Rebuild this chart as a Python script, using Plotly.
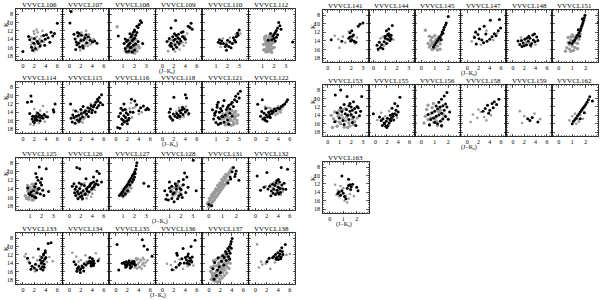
import plotly.graph_objects as go

# ---------------- data: (J-Ks, Ks) per cluster; B = black members, G = grey field ----------------
B106_X = [0.0, 1.0, 1.2, 1.5, 1.7, 2.0, 2.2, 2.5, 2.7, 3.0, 3.3, 3.6, 3.9, 4.1, 4.4, 4.7, 4.9, 5.2, 5.5, 6.0, 1.9, 3.8]
B106_Y = [16.9, 13.3, 14.1, 15.9, 16.6, 13.8, 16.2, 14.5, 15.0, 15.6, 14.4, 13.1, 14.0, 12.9, 13.6, 14.7, 12.3, 13.2, 12.6, 10.2, 14.9, 15.4]
G106_X = [1.4, 1.6, 1.8, 2.0, 2.1, 2.3, 2.4, 2.6, 2.8, 3.0, 3.2, 1.7, 2.2, 2.5, 2.9, 3.4, 1.9, 2.7, 3.1, 2.0, 2.4, 3.6, 1.5]
G106_Y = [15.3, 14.7, 13.9, 12.7, 15.6, 14.2, 13.4, 12.3, 15.9, 14.8, 13.3, 16.2, 15.1, 16.5, 13.9, 12.0, 12.1, 14.4, 15.3, 16.8, 11.7, 14.6, 13.6]

B107_X = [0.3, 0.1, 0.8, 1.0, 1.2, 1.3, 1.5, 1.6, 1.8, 2.0, 2.1, 2.3, 2.5, 2.7, 3.0, 3.3, 3.6, 4.0, 4.4, 4.8, 1.1, 1.7, 2.4, 1.4, 2.9]
B107_Y = [7.4, 10.1, 12.8, 13.9, 14.6, 15.3, 13.2, 14.9, 15.8, 14.3, 13.0, 15.5, 14.1, 13.6, 14.8, 13.4, 14.2, 14.6, 14.4, 14.9, 16.4, 12.6, 16.0, 12.4, 12.9]
G107_X = [1.5, 1.8, 2.0, 2.2, 2.4, 2.6, 2.8, 3.0, 3.2, 3.4, 3.6, 3.9, 2.1, 2.5, 2.9, 3.3, 1.9, 2.7, 3.7, 1.6, 3.1, 4.2]
G107_Y = [15.4, 14.7, 13.9, 15.9, 14.5, 13.1, 15.2, 14.0, 15.6, 12.8, 13.7, 14.3, 12.4, 16.3, 12.0, 14.9, 16.6, 15.5, 15.2, 13.2, 13.5, 13.9]

B108_X = [0.6, 1.1, 1.2, 1.3, 1.4, 1.5, 1.6, 1.7, 1.8, 1.9, 2.0, 1.2, 1.4, 1.6, 1.8, 2.0, 1.3, 1.5, 1.7, 1.9, 2.1, 1.8, 1.9, 2.0, 2.1, 2.2, 2.3, 2.4, 2.5, 2.2, 2.6, 2.0, 1.6, 2.3, 2.7]
B108_Y = [13.2, 15.0, 16.2, 14.5, 15.6, 16.8, 14.9, 15.9, 14.3, 15.4, 16.5, 13.9, 14.2, 16.0, 17.0, 13.7, 16.9, 15.2, 13.4, 14.0, 15.1, 12.9, 12.3, 11.8, 13.0, 12.4, 11.2, 10.5, 9.6, 10.9, 10.0, 12.0, 12.7, 14.5, 15.0]
G108_X = [0.5, 1.3, 1.5, 1.6, 1.7, 1.8, 1.9, 2.0, 2.1, 1.4, 1.6, 1.8, 2.0, 2.2, 1.5, 1.7, 1.9, 2.1, 1.2, 2.3, 1.6, 1.8, 2.0, 2.4]
G108_Y = [11.0, 16.0, 15.4, 16.6, 14.7, 15.8, 16.9, 15.0, 16.2, 17.2, 14.2, 16.4, 15.7, 16.8, 14.4, 17.1, 14.6, 14.0, 16.7, 15.5, 13.8, 13.5, 17.3, 16.0]

B109_X = [2.3, 1.5, 4.5, 5.0, 5.2, 4.8, 0.8, 1.2, 1.5, 1.8, 2.0, 2.2, 2.4, 2.6, 2.8, 3.0, 3.2, 3.5, 3.8, 4.0, 1.6, 2.1, 2.5, 2.9, 3.3, 1.9, 2.7, 3.6, 1.3, 2.2]
B109_Y = [9.5, 11.3, 10.9, 10.2, 11.6, 11.2, 14.5, 13.8, 14.9, 13.4, 14.2, 15.3, 13.1, 14.6, 12.8, 13.9, 14.4, 13.3, 13.7, 14.0, 15.7, 12.7, 15.9, 15.0, 12.4, 16.3, 13.6, 12.2, 15.4, 14.0]
G109_X = [1.0, 1.4, 1.7, 2.0, 2.3, 2.6, 2.9, 3.2, 3.5, 3.9, 4.3, 1.6, 2.4, 3.0, 3.7, 2.2, 1.2, 4.1]
G109_Y = [16.8, 15.8, 15.2, 14.6, 15.7, 14.0, 15.3, 14.9, 14.7, 13.2, 12.6, 14.1, 13.0, 16.4, 15.5, 16.9, 14.3, 14.8]

B110_X = [1.2, 1.4, 1.5, 1.65, 1.8, 1.9, 1.9, 2.1, 2.2, 2.4, 2.5, 2.6, 2.7, 2.75, 2.85, 3.0, 2.3, 1.3, 2.0, 2.9]
B110_Y = [14.7, 15.0, 14.4, 15.0, 15.7, 15.3, 16.6, 15.7, 14.6, 15.0, 13.6, 14.2, 14.6, 13.4, 12.5, 11.8, 16.0, 14.1, 14.2, 13.0]
G110_X = [1.6, 2.2, 2.7, 1.9, 2.5, 3.1, 1.4]
G110_Y = [13.8, 13.6, 12.8, 14.8, 14.9, 12.6, 15.8]

B112_X = [2.4, 2.5, 2.3, 2.2, 2.1, 2.0, 1.9, 2.2, 2.0, 1.8, 2.1, 1.7, 2.3, 3.6, 1.5, 2.6]
B112_Y = [10.0, 10.8, 11.3, 11.9, 12.4, 12.8, 13.2, 13.5, 13.8, 14.1, 14.4, 12.6, 12.9, 14.6, 14.2, 11.6]
G112_X = [1.1, 1.2, 1.3, 1.4, 1.5, 1.6, 1.7, 1.8, 1.9, 2.0, 1.2, 1.3, 1.4, 1.5, 1.6, 1.7, 1.8, 1.9, 1.1, 1.3, 1.5, 1.7, 1.9, 1.2, 1.4, 1.6, 1.8, 2.0, 1.3, 1.5, 1.7, 1.6, 1.4, 1.8, 1.5]
G112_Y = [15.2, 16.4, 14.6, 15.8, 16.9, 14.1, 15.5, 16.3, 14.8, 15.9, 14.0, 15.1, 16.6, 13.8, 15.3, 16.8, 14.4, 13.6, 16.5, 17.0, 15.6, 13.4, 16.0, 13.5, 14.3, 16.2, 15.0, 14.6, 13.2, 14.9, 14.8, 13.1, 15.4, 17.1, 16.4]

B114_X = [0.8, 1.4, 1.5, 1.2, 1.6, 1.8, 1.9, 2.0, 2.2, 2.3, 2.5, 2.7, 2.9, 3.1, 3.3, 3.5, 3.7, 4.0, 2.1, 2.6, 3.0, 1.7, 5.6, 5.3, 5.4, 4.3]
B114_Y = [11.6, 10.1, 11.4, 14.3, 15.6, 16.2, 15.0, 16.4, 15.4, 14.8, 15.9, 15.1, 14.6, 15.3, 14.9, 15.4, 14.5, 15.0, 15.8, 14.2, 16.0, 14.9, 12.0, 13.4, 13.9, 15.1]
G114_X = [3.5, 2.4, 3.0, 1.9, 4.2, 2.8, 1.3, 3.8, 2.0]
G114_Y = [12.5, 14.0, 13.6, 17.0, 13.9, 16.6, 16.8, 16.2, 13.2]

B115_X = [0.2, 0.3, 0.5, 0.8, 1.0, 1.2, 1.4, 1.6, 1.9, 2.1, 2.3, 2.6, 2.8, 3.0, 3.2, 3.4, 3.6, 3.8, 4.0, 4.2, 4.4, 4.6, 4.8, 5.0, 5.2, 5.4, 5.6, 5.8, 1.1, 1.7, 2.4, 3.3, 3.9, 4.5, 5.1, 0.6, 2.0, 4.9]
B115_Y = [12.0, 15.4, 16.3, 15.2, 16.6, 14.9, 15.8, 14.7, 15.5, 14.3, 15.1, 14.0, 13.6, 14.4, 12.9, 13.8, 13.1, 12.4, 13.5, 12.7, 12.2, 11.6, 12.9, 11.3, 10.5, 11.7, 9.8, 12.2, 13.7, 16.1, 12.6, 15.0, 14.1, 13.9, 12.4, 14.6, 13.3, 10.9]
G115_X = [1.0, 1.3, 1.6, 1.8, 2.0, 2.2, 2.5, 2.7, 2.9, 3.1, 1.5, 1.9, 2.3, 2.6, 3.5, 4.1, 0.7, 2.1, 3.7]
G115_Y = [15.7, 15.0, 16.4, 15.3, 16.0, 14.8, 15.6, 15.2, 14.6, 13.7, 13.9, 14.5, 16.4, 14.2, 13.4, 12.8, 13.5, 13.6, 12.0]

B116_X = [0.3, 0.7, 0.5, 0.8, 1.0, 1.2, 1.4, 1.5, 1.7, 1.9, 2.1, 2.3, 2.5, 1.1, 1.6, 2.0, 0.9, 1.3, 1.8, 2.2, 2.7, 3.3, 3.6, 4.0, 4.3, 5.2, 5.5, 5.7, 4.8, 3.0, 1.4]
B116_Y = [17.6, 17.8, 15.0, 14.2, 15.6, 13.5, 14.8, 16.3, 15.2, 16.0, 14.5, 15.4, 13.9, 16.8, 13.3, 16.7, 13.0, 15.9, 14.1, 15.8, 10.9, 11.3, 12.2, 13.6, 12.9, 13.4, 13.0, 13.3, 12.5, 14.0, 12.0]
G116_X = [1.8, 2.4, 3.0, 3.4, 4.0, 4.5, 2.8, 1.2, 2.6]
G116_Y = [13.4, 13.1, 13.0, 12.7, 14.4, 14.0, 15.2, 16.4, 11.8]

B118_X = [2.0, 4.0, 4.2, 1.2, 1.4, 1.5, 1.8, 2.2, 2.5, 2.8, 3.0, 3.2, 3.4, 3.6, 3.8, 4.0, 4.3, 4.6, 2.6, 3.1, 3.5, 1.3, 1.9]
B118_Y = [10.4, 9.8, 10.6, 14.0, 13.2, 15.4, 15.8, 14.9, 14.3, 14.7, 13.6, 14.1, 13.4, 14.5, 13.2, 13.9, 13.5, 14.3, 15.2, 15.0, 12.8, 15.0, 14.4]
G118_X = [2.4, 3.0, 3.7, 4.5, 1.7, 2.9, 4.1]
G118_Y = [13.8, 15.5, 15.1, 14.6, 16.0, 12.9, 12.6]

B121_X = [0.7, 0.8, 0.9, 1.0, 1.1, 1.2, 1.3, 1.4, 1.5, 1.6, 1.7, 1.8, 1.9, 2.0, 2.1, 2.2, 2.3, 2.4, 2.5, 2.6, 2.7, 2.8, 2.9, 3.0, 3.1, 1.0, 1.2, 1.5, 1.7, 0.9, 1.3, 1.6, 2.0, 2.2, 1.1, 1.4, 2.1, 2.4, 1.2]
B121_Y = [13.4, 15.6, 14.2, 16.4, 12.8, 15.2, 14.0, 16.6, 13.6, 15.0, 11.2, 14.6, 13.3, 12.8, 12.3, 14.2, 12.0, 11.6, 12.6, 11.0, 10.2, 11.4, 9.6, 10.6, 9.0, 13.8, 16.9, 14.9, 16.3, 14.7, 15.5, 12.5, 15.8, 13.2, 12.2, 13.1, 16.8, 14.9, 11.6]
G121_X = [1.5, 1.7, 1.9, 2.1, 2.3, 2.5, 2.7, 2.9, 1.6, 1.8, 2.0, 2.2, 2.4, 2.6, 2.8, 1.7, 2.0, 2.3, 2.6, 1.9, 2.2, 2.5, 2.8, 1.4, 2.1, 2.4, 2.7]
G121_Y = [15.6, 16.4, 15.2, 16.8, 15.8, 16.3, 15.0, 14.6, 14.4, 17.0, 14.8, 16.0, 14.5, 15.5, 16.6, 15.4, 16.6, 17.1, 14.2, 14.1, 15.3, 16.9, 15.9, 16.6, 13.9, 13.6, 13.8]

B122_X = [0.4, 1.2, 0.9, 1.3, 1.5, 1.7, 1.9, 2.1, 2.3, 2.5, 2.7, 2.9, 3.1, 3.3, 3.6, 3.9, 4.2, 4.5, 4.8, 5.1, 5.4, 5.6, 1.6, 2.0, 2.4, 1.1, 1.8, 2.6]
B122_Y = [12.1, 11.0, 14.9, 15.6, 14.2, 15.9, 14.6, 15.1, 14.0, 14.5, 13.7, 14.3, 13.8, 13.2, 13.6, 13.0, 13.1, 12.6, 12.3, 12.0, 11.5, 11.0, 15.3, 16.1, 14.9, 13.8, 13.1, 15.2]
G122_X = [3.0, 3.3, 3.6, 3.9, 4.2, 4.5, 4.8, 3.5, 4.0, 4.4, 2.6, 2.2, 1.7]
G122_Y = [13.4, 14.1, 13.0, 14.3, 13.6, 13.3, 12.8, 14.6, 12.5, 14.0, 13.0, 12.9, 12.6]

B125_X = [1.8, 2.4, 1.5, 1.6, 1.7, 1.9, 2.0, 1.5, 1.4, 1.8, 2.1, 1.3, 1.6, 1.9, 2.2, 1.2, 1.0, 0.8, 1.5, 2.6, 2.0, 1.7, 1.1, 1.4, 0.9]
B125_Y = [8.9, 9.3, 10.4, 11.3, 12.0, 12.5, 13.1, 12.8, 13.5, 13.9, 14.3, 14.4, 14.9, 15.2, 15.5, 15.6, 15.3, 13.8, 16.0, 14.6, 11.6, 14.1, 14.7, 15.9, 15.1]
G125_X = [0.6, 0.8, 0.9, 1.0, 1.1, 1.2, 1.3, 1.4, 1.5, 0.7, 0.9, 1.1, 1.3, 1.5, 1.0, 1.2, 1.4, 0.8, 1.6, 1.7, 1.2, 0.9, 1.3]
G125_Y = [15.6, 14.5, 15.9, 13.6, 15.1, 14.2, 15.7, 13.9, 14.6, 16.2, 16.4, 15.8, 13.3, 16.1, 14.9, 16.6, 15.3, 13.2, 13.7, 15.0, 12.9, 14.1, 16.5]

B126_X = [1.3, 1.8, 4.8, 5.2, 4.2, 2.9, 5.6, 0.5, 0.8, 1.0, 1.2, 1.4, 1.6, 1.8, 2.0, 2.2, 2.4, 2.6, 2.8, 3.0, 3.2, 3.4, 3.6, 3.8, 4.0, 4.2, 4.4, 4.6, 4.8, 5.0, 1.5, 1.9, 2.3, 2.7, 3.1, 3.5, 3.9, 4.3, 1.1, 1.7, 2.1, 0.9]
B126_Y = [9.0, 9.3, 9.9, 10.4, 11.2, 11.6, 12.4, 13.4, 12.8, 14.1, 13.5, 14.6, 15.2, 13.9, 14.9, 15.6, 14.4, 13.2, 15.1, 14.0, 13.6, 14.7, 13.0, 12.7, 13.8, 12.4, 13.1, 12.8, 12.1, 13.0, 16.3, 15.8, 16.2, 15.3, 14.5, 13.4, 14.1, 13.5, 15.5, 12.6, 12.9, 14.9]
G126_X = [1.2, 1.6, 2.0, 2.4, 2.8, 3.2, 3.6, 4.0, 4.4, 1.4, 2.2, 3.0, 3.8, 2.6]
G126_Y = [15.0, 14.2, 13.4, 14.8, 13.9, 15.4, 14.6, 15.1, 14.2, 16.0, 16.5, 16.2, 15.8, 12.6]

B127_X = [0.7, 0.8, 0.9, 1.0, 1.1, 1.2, 1.3, 1.4, 1.5, 1.6, 1.7, 1.8, 1.9, 2.0, 2.1, 2.15, 2.2, 1.9, 2.0, 1.8, 1.6, 1.2, 1.0, 2.8, 3.2, 1.4, 2.05]
B127_Y = [15.5, 15.2, 14.8, 14.6, 14.0, 13.6, 13.3, 12.9, 12.4, 12.0, 11.5, 11.0, 10.6, 10.0, 9.4, 8.6, 7.9, 11.8, 11.2, 12.4, 13.1, 15.1, 15.6, 12.7, 13.4, 14.4, 10.4]
G127_X = [0.9, 1.0, 1.1, 1.2, 1.3, 1.4, 1.5, 1.6, 1.7, 1.8, 1.1, 1.3, 1.5, 1.7, 1.2, 1.4, 1.6, 1.0, 1.9]
G127_Y = [15.3, 14.2, 15.0, 14.4, 13.9, 14.2, 13.6, 13.0, 12.6, 12.2, 14.1, 14.9, 14.6, 13.8, 15.4, 13.5, 12.8, 15.8, 11.8]

B128_X = [3.05, 2.3, 2.5, 2.2, 0.6, 0.8, 1.0, 1.2, 1.4, 1.6, 1.8, 2.0, 2.2, 2.4, 0.9, 1.1, 1.3, 1.5, 1.7, 1.9, 2.1, 0.7, 1.0, 1.4, 1.8, 2.0, 3.3, 1.6, 1.2, 2.6]
B128_Y = [7.3, 10.3, 11.2, 11.8, 14.4, 15.4, 13.8, 16.2, 14.9, 13.3, 15.6, 14.2, 13.0, 14.8, 16.6, 14.6, 15.1, 12.8, 16.3, 13.9, 16.0, 16.4, 12.4, 17.0, 12.2, 15.3, 14.4, 14.0, 13.4, 13.6]
G128_X = [1.2, 1.4, 1.6, 1.8, 2.0, 1.5, 1.7, 1.9, 1.3, 2.1, 1.6, 1.8]
G128_Y = [14.3, 13.7, 14.6, 13.5, 14.1, 15.2, 12.8, 14.9, 15.6, 13.2, 13.2, 15.8]

B131_X = [1.8, 1.55, 1.95, 2.2, 1.7, 1.4, 0.0, 0.2, 1.6, 1.9, 2.0]
B131_Y = [9.0, 11.2, 10.5, 12.0, 10.0, 12.6, 17.6, 17.9, 11.7, 11.1, 9.8]
G131_X = [-0.1, 0.0, 0.1, 0.2, 0.3, 0.4, 0.5, 0.6, 0.7, 0.8, 0.9, 1.0, 1.1, 1.2, 1.3, 1.4, 1.5, 1.6, 1.7,
          0.0, 0.1, 0.2, 0.3, 0.4, 0.5, 0.6, 0.7, 0.8, 0.9, 1.0, 1.1, 1.2, 1.3, 1.4,
          0.2, 0.35, 0.5, 0.65, 0.8, 0.95, 1.1, 1.25, 0.05, 0.25, 0.45, 0.6, 0.75, 0.9, 1.05]
G131_Y = [17.4, 17.0, 16.6, 16.1, 15.7, 15.2, 14.7, 14.3, 13.8, 13.4, 12.9, 12.4, 12.0, 11.5, 11.0, 10.6, 10.1, 9.6, 9.2,
          18.2, 17.7, 17.4, 16.9, 16.5, 16.0, 15.6, 15.1, 14.7, 14.2, 13.8, 13.3, 12.9, 12.4, 12.0,
          15.6, 14.8, 14.0, 13.2, 12.6, 11.8, 11.2, 10.6, 16.2, 15.3, 14.6, 15.5, 14.4, 13.5, 12.9]

B132_X = [0.3, 2.0, 4.5, 5.6, 4.0, 2.2, 2.5, 2.8, 3.0, 3.2, 3.4, 3.6, 3.8, 4.0, 4.2, 4.4, 4.6, 4.8, 5.0, 3.1, 3.5, 3.9, 4.3, 2.7, 3.7, 4.1, 0.9, 1.5, 5.3]
B132_Y = [11.0, 10.2, 9.0, 9.4, 11.8, 14.0, 13.4, 14.5, 12.9, 14.0, 13.2, 12.6, 14.3, 13.6, 12.4, 14.8, 13.1, 14.0, 12.7, 15.0, 15.3, 14.9, 13.9, 15.6, 12.1, 15.2, 14.3, 13.6, 14.1]
G132_X = [3.0, 3.4, 3.8, 4.2, 4.6, 3.6, 4.0, 4.4, 3.2, 2.6, 4.8, 1.8]
G132_Y = [13.8, 14.3, 13.5, 14.5, 13.8, 15.0, 12.9, 15.4, 12.5, 13.0, 14.6, 13.4]

B133_X = [4.4, 4.9, 2.7, 3.0, 3.2, 3.3, 3.4, 3.5, 3.6, 3.7, 3.8, 3.9, 4.0, 3.1, 3.5, 3.7, 3.3, 3.6, 0.8, 1.2, 1.6, 2.0, 2.4, 2.8, 1.4, 2.2, 3.9]
B133_Y = [9.3, 9.1, 10.6, 13.2, 14.0, 12.6, 14.8, 13.5, 12.0, 14.2, 13.0, 11.4, 12.6, 15.3, 15.6, 14.9, 13.7, 11.8, 12.8, 13.9, 14.7, 15.1, 15.6, 14.6, 15.4, 14.2, 11.0]
G133_X = [0.5, 1.0, 1.8, 2.5, 3.0, 4.2, 4.6, 5.2, 2.1, 0.3]
G133_Y = [11.8, 13.6, 12.6, 13.3, 12.3, 13.7, 12.5, 13.5, 15.9, 12.4]

B134_X = [0.8, 1.1, 1.4, 1.6, 1.8, 2.0, 2.2, 2.4, 2.6, 2.9, 3.2, 3.5, 3.7, 3.8, 3.9, 4.0, 4.1, 4.2, 4.3, 3.6, 4.0, 3.8, 4.2, 5.0, 1.3, 1.9, 2.5]
B134_Y = [13.6, 14.3, 15.2, 14.8, 15.6, 15.3, 14.6, 15.0, 14.1, 14.4, 13.9, 13.5, 14.0, 13.6, 14.4, 13.8, 14.2, 13.4, 14.0, 12.6, 12.9, 14.6, 14.5, 13.4, 15.9, 16.2, 15.8]
G134_X = [0.5, 1.2, 2.0, 2.8, 3.4, 4.6, 5.2, 1.6, 3.0]
G134_Y = [11.5, 12.4, 13.2, 12.1, 12.8, 11.6, 12.9, 13.6, 13.5]

B135_X = [0.2, 4.6, 4.9, 5.5, 6.3, 1.4, 1.6, 1.8, 2.0, 2.2, 2.4, 2.6, 2.8, 3.0, 3.2, 3.4, 1.9, 2.3, 2.7, 3.1, 1.7, 0.5, 1.1, 2.5]
B135_Y = [9.5, 8.4, 9.9, 10.7, 12.3, 13.8, 14.3, 13.6, 14.1, 13.8, 14.4, 14.0, 13.7, 14.2, 13.9, 14.4, 14.6, 13.4, 14.8, 13.5, 14.9, 15.6, 14.0, 15.1]
G135_X = [2.8, 3.0, 3.2, 3.4, 3.6, 3.8, 4.0, 4.2, 4.4, 4.6, 4.8, 5.0, 3.3, 3.7, 4.1, 4.5, 4.9, 3.5, 3.9, 4.3, 4.7, 5.2, 5.5, 2.6]
G135_Y = [13.4, 14.0, 13.6, 14.6, 13.2, 14.2, 13.8, 14.8, 13.4, 14.3, 13.9, 14.6, 15.0, 15.2, 14.9, 15.3, 13.1, 12.8, 12.9, 13.2, 12.7, 13.8, 13.3, 14.9]

B136_X = [5.7, 3.6, 5.0, 2.5, 2.6, 4.0, 4.2, 4.4, 4.6, 4.8, 5.0, 5.2, 4.3, 4.7, 5.1, 3.8, 3.1, 2.4, 1.7, 2.9, 4.5, 3.4]
B136_Y = [8.5, 10.5, 10.0, 11.6, 12.1, 12.6, 13.2, 12.3, 13.5, 12.8, 13.3, 12.5, 14.0, 14.2, 13.7, 13.9, 14.0, 14.9, 15.5, 14.4, 11.8, 12.9]
G136_X = [0.8, 1.5, 2.2, 3.0, 3.6, 4.4, 5.4, 2.0]
G136_Y = [14.1, 14.4, 13.6, 13.1, 15.3, 14.7, 14.5, 15.6]

B137_X = [4.05, 3.9, 3.8, 3.6, 3.3, 3.5, 2.9, 3.1, 2.4, 2.7, 1.6, 1.0, 0.7, 1.8, 2.2, 3.4, 3.7, 3.0, 2.0, 1.3, 3.6, 2.6, 0.9, 1.5, 3.9]
B137_Y = [8.1, 8.8, 9.4, 10.0, 10.5, 11.0, 11.2, 11.8, 12.2, 12.6, 12.7, 13.8, 15.3, 14.8, 13.5, 12.4, 11.6, 13.3, 16.2, 16.9, 13.0, 14.4, 17.8, 15.6, 10.4]
G137_X = [0.4, 0.6, 0.8, 1.0, 1.2, 1.4, 1.6, 1.8, 2.0, 2.2, 2.4, 2.6, 2.8, 3.0, 3.2, 3.4,
          0.5, 0.7, 0.9, 1.1, 1.3, 1.5, 1.7, 1.9, 2.1, 2.3, 2.5, 2.7, 2.9, 3.1, 3.3, 3.5,
          0.4, 0.8, 1.2, 1.6, 2.0, 2.4, 2.8, 3.2, 3.6, 0.6, 1.0, 1.4, 1.8, 2.2, 2.6, 3.0,
          1.3, 1.7, 2.1, 2.5, 2.9, 3.3, 3.7, 0.3, 1.9]
G137_Y = [17.8, 16.9, 18.1, 16.4, 17.5, 15.9, 17.2, 15.3, 16.8, 14.7, 16.2, 14.0, 15.6, 13.4, 14.9, 12.6,
          16.2, 15.1, 14.6, 18.2, 15.8, 18.4, 14.2, 17.8, 13.6, 17.4, 13.0, 16.9, 12.4, 16.3, 13.8, 15.2,
          14.9, 13.4, 13.2, 12.9, 12.6, 12.1, 11.8, 11.6, 12.8, 17.4, 17.2, 16.8, 16.6, 15.9, 15.4, 14.5,
          14.6, 13.9, 15.4, 15.0, 14.2, 13.4, 14.0, 15.9, 18.3]

B138_X = [5.2, 4.6, 4.3, 3.2, 3.5, 3.7, 3.9, 4.1, 4.3, 4.5, 4.7, 3.6, 4.0, 4.4, 2.4, 2.0, 3.0, 4.8]
B138_Y = [9.5, 10.3, 11.0, 12.4, 11.9, 12.6, 11.5, 12.3, 11.8, 12.5, 11.2, 13.0, 13.1, 12.9, 12.8, 13.6, 12.7, 11.9]
G138_X = [0.3, 1.0, 1.2, 1.8, 2.2, 0.6, 6.0, 3.4, 5.4, 2.6]
G138_Y = [9.5, 13.6, 14.3, 14.1, 13.2, 15.0, 11.8, 13.8, 12.0, 15.3]

B141_X = [3.0, 2.75, 2.6, 2.05, 1.9, 2.2, 1.9, 2.05, 1.8, 2.25, 1.2, 0.3, 2.1, 1.95, 2.4]
B141_Y = [9.8, 10.1, 10.6, 11.6, 12.1, 12.6, 13.1, 13.7, 13.4, 14.1, 14.1, 13.7, 12.9, 14.0, 14.3]
G141_X = [0.6, 1.3, 1.8, 2.5, 1.0, 2.3, 1.5, 0.9]
G141_Y = [12.8, 13.0, 11.8, 13.2, 15.6, 14.6, 14.4, 13.6]

B144_X = [1.6, 1.3, 1.1, 1.2, 1.3, 1.4, 1.5, 1.0, 1.2, 1.4, 0.9, 1.1, 0.7, 0.5, 0.3, 0.6, 0.8, 1.3, 0.4, 1.5, 1.0]
B144_Y = [10.4, 11.2, 11.6, 12.5, 12.8, 13.1, 12.7, 13.4, 13.6, 13.9, 14.2, 14.6, 14.9, 14.3, 15.0, 15.5, 15.8, 12.3, 15.9, 13.5, 12.9]
G144_X = [0.6, 0.9, 1.2, 0.4, 1.7, 0.8]
G144_Y = [13.4, 15.1, 14.5, 16.2, 13.7, 13.0]

B145_X = [2.0, 1.85, 1.8, 1.7, 1.65, 1.55, 1.5, 1.4, 1.3, 1.2, 1.1, 1.0, 1.6, 1.45, 0.9]
B145_Y = [8.3, 9.8, 10.3, 10.8, 11.4, 11.9, 12.5, 13.0, 13.4, 13.9, 14.4, 14.9, 12.2, 13.7, 15.4]
G145_X = [0.5, 0.6, 0.7, 0.8, 0.9, 1.0, 1.1, 1.2, 1.3, 1.4, 0.6, 0.8, 1.0, 1.2, 1.4, 0.7, 0.9, 1.1, 1.3, 0.3, 1.5, 0.8, 1.0]
G145_Y = [14.6, 15.4, 13.9, 16.0, 14.8, 15.6, 13.6, 15.2, 14.1, 14.7, 12.9, 13.2, 12.8, 16.1, 15.9, 15.0, 15.8, 14.3, 13.0, 11.5, 13.7, 14.4, 14.1]

B147_X = [4.1, 5.7, 3.0, 2.2, 1.3, 1.9, 2.6, 3.3, 2.1, 1.6, 3.5, 4.4, 4.8, 5.1, 5.5, 5.9, 4.0, 2.9, 1.5]
B147_Y = [9.2, 9.0, 10.6, 11.2, 13.2, 12.5, 13.8, 12.4, 13.5, 14.7, 14.1, 13.0, 12.3, 12.8, 11.6, 11.0, 13.6, 14.4, 12.0]
G147_X = [1.5, 1.2, 2.4, 3.4, 4.6, 5.3, 0.8]
G147_Y = [11.8, 12.9, 14.9, 11.6, 13.8, 12.2, 14.1]

B148_X = [0.9, 1.2, 1.5, 1.8, 2.1, 2.4, 2.7, 3.0, 3.3, 3.6, 3.9, 4.2, 2.0, 2.5, 3.1, 3.5, 1.6, 2.8, 3.8, 4.4]
B148_Y = [14.0, 14.8, 13.9, 14.5, 13.6, 14.9, 14.1, 13.4, 14.6, 13.8, 14.2, 13.1, 15.1, 13.3, 15.0, 12.6, 15.3, 12.9, 12.4, 13.9]
G148_X = [1.4, 2.3, 3.2, 4.0, 2.9]
G148_Y = [13.2, 14.3, 15.4, 14.9, 14.6]

B151_X = [1.95, 1.9, 1.85, 1.8, 1.75, 1.7, 1.65, 1.6, 1.5, 1.4, 1.3, 1.2, 1.1, 1.0, 2.95, 1.55, 1.45, 0.8, 1.75]
B151_Y = [8.0, 8.6, 9.2, 9.7, 10.2, 10.6, 11.1, 11.6, 12.1, 12.6, 13.2, 13.7, 14.1, 14.6, 9.7, 12.9, 11.4, 14.4, 8.9]
G151_X = [0.6, 0.7, 0.8, 0.9, 1.0, 1.1, 1.2, 1.3, 1.4, 0.7, 0.9, 1.1, 1.3, 1.5, 0.8, 1.0, 1.2, 1.4, 0.5, 1.6, 0.9, 1.1]
G151_Y = [15.6, 14.4, 15.9, 13.8, 15.2, 14.0, 15.5, 13.4, 14.6, 13.2, 16.4, 16.2, 12.8, 13.6, 14.8, 12.6, 14.3, 15.8, 16.4, 12.4, 13.1, 13.0]

B153_X = [1.1, 0.65, 1.65, 2.9, 2.2, 1.4, 1.8, 2.0, 2.3, 2.5, 1.6, 1.9, 2.1, 2.4, 2.6, 1.2, 1.5, 1.7, 2.0, 2.2, 0.8, 1.0, 1.3, 2.7, 2.8, 1.8, 2.1, 1.4, 0.6, 2.4, 1.9, 1.1]
B153_Y = [8.0, 9.2, 9.5, 9.5, 10.8, 11.4, 11.7, 12.0, 12.4, 11.9, 12.6, 13.0, 12.8, 13.3, 12.2, 13.1, 13.6, 14.0, 13.8, 14.4, 13.4, 14.6, 15.2, 14.1, 13.0, 15.0, 15.7, 16.2, 15.5, 16.4, 11.2, 12.2]
G153_X = [0.5, 0.7, 0.9, 1.1, 1.3, 1.5, 1.7, 1.9, 2.1, 2.3, 0.6, 0.8, 1.0, 1.2, 1.4, 1.6, 1.8, 2.0, 2.2, 0.4, 1.0, 1.5, 2.5, 0.9, 1.3, 1.7, 0.3]
G153_Y = [14.8, 15.4, 14.2, 16.0, 14.7, 15.3, 13.9, 16.5, 14.9, 15.5, 13.2, 16.6, 12.8, 13.9, 16.8, 14.4, 15.8, 14.1, 16.2, 16.9, 15.6, 12.4, 14.6, 13.6, 12.6, 16.9, 14.0]

B155_X = [4.3, 3.4, 3.9, 2.9, 3.6, 1.0, 1.3, 1.6, 1.9, 2.2, 2.5, 2.8, 3.1, 3.4, 3.7, 4.0, 1.5, 1.8, 2.1, 2.4, 2.7, 3.0, 1.2, 2.0, 2.6, 3.2, -0.4, 0.7]
B155_Y = [9.7, 11.2, 11.8, 12.3, 12.8, 15.2, 14.8, 16.0, 15.4, 16.4, 15.0, 14.6, 14.2, 13.6, 13.9, 13.2, 15.8, 16.6, 14.7, 15.8, 15.3, 13.7, 16.4, 16.9, 14.0, 15.1, 13.6, 14.4]
G155_X = [0.3, 1.0, 2.4, 3.8, 1.7]
G155_Y = [15.1, 13.4, 13.0, 14.6, 14.2]

B156_X = [1.9, 1.7, 1.5, 1.3, 1.8, 1.6, 1.4, 1.2, 1.0, 0.8, 1.7, 1.5, 1.3, 1.1, 0.9, 0.7, 1.9, 2.1, 1.6, 1.4, 1.2, 0.6, 1.0, 1.8, 2.0, 0.5, 1.1, 1.5]
B156_Y = [8.6, 9.4, 10.2, 10.9, 11.3, 11.7, 12.0, 12.5, 13.0, 13.4, 12.8, 13.5, 13.9, 14.2, 14.6, 15.0, 12.0, 13.2, 14.8, 15.4, 16.0, 16.3, 15.7, 14.3, 14.9, 13.8, 11.8, 16.4]
G156_X = [0.3, 0.5, 0.7, 0.9, 1.1, 1.3, 1.5, 1.7, 0.4, 0.6, 0.8, 1.0, 1.2, 1.4, 1.6, 0.5, 0.9, 1.3, 0.2, 0.7, 1.1, 1.5]
G156_Y = [14.2, 15.0, 13.6, 15.6, 14.4, 13.2, 15.2, 14.0, 12.6, 16.2, 12.2, 14.8, 16.4, 12.8, 13.6, 11.6, 11.2, 12.2, 15.8, 14.6, 15.4, 16.6]

B158_X = [3.2, 3.6, 4.0, 4.4, 4.8, 5.2, 3.8, 4.6, 2.8, 5.6]
B158_Y = [12.4, 11.6, 12.8, 11.2, 10.8, 11.4, 13.5, 12.2, 13.0, 10.2]
G158_X = [1.0, 1.8, 2.4, 3.0, 3.4, 4.2, 0.6, 2.0]
G158_Y = [13.8, 14.6, 13.2, 14.4, 15.2, 14.0, 15.6, 12.6]

B159_X = [2.6, 3.0, 3.4, 4.4]
B159_Y = [14.8, 15.2, 14.5, 15.6]
G159_X = [1.2, 2.0, 3.8, 4.8, 1.6]
G159_Y = [13.0, 14.2, 13.6, 14.9, 15.8]

B162_X = [2.3, 2.2, 2.1, 2.0, 1.9, 1.8, 1.7, 1.6, 1.5, 1.4, 1.3, 1.2, 1.1, 1.9, 1.6, 2.5, 1.0]
B162_Y = [9.6, 10.3, 10.9, 11.4, 11.9, 12.3, 12.8, 13.2, 13.7, 14.1, 14.6, 15.0, 15.4, 13.4, 14.8, 10.6, 16.0]
G162_X = [1.2, 1.4, 1.6, 1.8, 1.0, 1.3, 1.5, 0.8, 1.7]
G162_Y = [13.6, 14.9, 13.9, 14.8, 14.2, 16.0, 15.5, 15.2, 12.6]

B163_X = [0.9, 1.4, 1.4, 1.6, 1.3, 1.5, 0.7, 0.6, 0.8, 1.1, 2.0, 2.1, 1.7, 1.0, 0.9, 1.2, 1.55]
B163_Y = [10.1, 10.9, 12.4, 12.7, 13.0, 12.2, 13.9, 14.3, 14.7, 15.0, 12.8, 13.6, 12.1, 14.2, 13.6, 15.5, 13.3]
G163_X = [0.4, 0.6, 0.8, 1.0, 1.2, 1.4, 0.7, 1.1, 1.5, 1.3, 0.5, 1.8]
G163_Y = [12.2, 13.6, 12.5, 13.0, 14.8, 15.5, 15.0, 16.0, 14.4, 16.4, 14.6, 14.9]

KS_TICKS = [8, 10, 12, 14, 16, 18]

# x-axis styles: (range, tick values, minor step)
XSTYLE = {
    "w": ([-1.2, 6.9], [0, 2, 4, 6], 0.5),
    "a": ([-0.2, 3.8], [1, 2, 3], 0.2),
    "b": ([-0.4, 3.5], [0, 1, 2, 3], 0.2),
    "c": ([-0.5, 2.9], [0, 1, 2], 0.2),
}

# (name, block, row, col, x-style, black x, black y, grey x, grey y, dense-grey)
PANELS = [
    ("VVVCL106", "L", 0, 0, "w", B106_X, B106_Y, G106_X, G106_Y, False),
    ("VVVCL107", "L", 0, 1, "w", B107_X, B107_Y, G107_X, G107_Y, False),
    ("VVVCL108", "L", 0, 2, "a", B108_X, B108_Y, G108_X, G108_Y, True),
    ("VVVCL109", "L", 0, 3, "w", B109_X, B109_Y, G109_X, G109_Y, False),
    ("VVVCL110", "L", 0, 4, "a", B110_X, B110_Y, G110_X, G110_Y, False),
    ("VVVCL112", "L", 0, 5, "a", B112_X, B112_Y, G112_X, G112_Y, True),
    ("VVVCL114", "L", 1, 0, "w", B114_X, B114_Y, G114_X, G114_Y, False),
    ("VVVCL115", "L", 1, 1, "w", B115_X, B115_Y, G115_X, G115_Y, False),
    ("VVVCL116", "L", 1, 2, "w", B116_X, B116_Y, G116_X, G116_Y, False),
    ("VVVCL118", "L", 1, 3, "w", B118_X, B118_Y, G118_X, G118_Y, False),
    ("VVVCL121", "L", 1, 4, "a", B121_X, B121_Y, G121_X, G121_Y, True),
    ("VVVCL122", "L", 1, 5, "w", B122_X, B122_Y, G122_X, G122_Y, False),
    ("VVVCL125", "L", 2, 0, "a", B125_X, B125_Y, G125_X, G125_Y, True),
    ("VVVCL126", "L", 2, 1, "w", B126_X, B126_Y, G126_X, G126_Y, False),
    ("VVVCL127", "L", 2, 2, "a", B127_X, B127_Y, G127_X, G127_Y, True),
    ("VVVCL128", "L", 2, 3, "a", B128_X, B128_Y, G128_X, G128_Y, True),
    ("VVVCL131", "L", 2, 4, "c", B131_X, B131_Y, G131_X, G131_Y, True),
    ("VVVCL132", "L", 2, 5, "w", B132_X, B132_Y, G132_X, G132_Y, False),
    ("VVVCL133", "L", 3, 0, "w", B133_X, B133_Y, G133_X, G133_Y, False),
    ("VVVCL134", "L", 3, 1, "w", B134_X, B134_Y, G134_X, G134_Y, False),
    ("VVVCL135", "L", 3, 2, "w", B135_X, B135_Y, G135_X, G135_Y, False),
    ("VVVCL136", "L", 3, 3, "w", B136_X, B136_Y, G136_X, G136_Y, False),
    ("VVVCL137", "L", 3, 4, "w", B137_X, B137_Y, G137_X, G137_Y, True),
    ("VVVCL138", "L", 3, 5, "w", B138_X, B138_Y, G138_X, G138_Y, False),
    ("VVVCL141", "R", 0, 0, "b", B141_X, B141_Y, G141_X, G141_Y, False),
    ("VVVCL144", "R", 0, 1, "b", B144_X, B144_Y, G144_X, G144_Y, False),
    ("VVVCL145", "R", 0, 2, "c", B145_X, B145_Y, G145_X, G145_Y, True),
    ("VVVCL147", "R", 0, 3, "w", B147_X, B147_Y, G147_X, G147_Y, False),
    ("VVVCL148", "R", 0, 4, "w", B148_X, B148_Y, G148_X, G148_Y, False),
    ("VVVCL151", "R", 0, 5, "c", B151_X, B151_Y, G151_X, G151_Y, True),
    ("VVVCL153", "R", 1, 0, "b", B153_X, B153_Y, G153_X, G153_Y, True),
    ("VVVCL155", "R", 1, 1, "w", B155_X, B155_Y, G155_X, G155_Y, False),
    ("VVVCL156", "R", 1, 2, "c", B156_X, B156_Y, G156_X, G156_Y, True),
    ("VVVCL158", "R", 1, 3, "w", B158_X, B158_Y, G158_X, G158_Y, False),
    ("VVVCL159", "R", 1, 4, "w", B159_X, B159_Y, G159_X, G159_Y, False),
    ("VVVCL162", "R", 1, 5, "c", B162_X, B162_Y, G162_X, G162_Y, False),
    ("VVVCL163", "R", 2, 0, "c", B163_X, B163_Y, G163_X, G163_Y, False),
]

# ---------------- geometry (pixels in a 600x300 page) ----------------
W, H = 600, 300
BLOCK = {
    "L": dict(x0=16.0, pw=46.5, rows=[(9, 60), (82, 133), (158, 210), (233, 284)],
              xlab=[167, 170, 160, 158], ks_x=6),
    "R": dict(x0=323.0, pw=45.8, rows=[(10, 62), (85, 136), (162, 213)],
              xlab=[469, 469, 344], ks_x=313),
}
FONT = "Liberation Serif"

fig = go.Figure()
layout = dict(width=W, height=H, margin=dict(l=0, r=0, t=0, b=0), autosize=False,
              paper_bgcolor="white", plot_bgcolor="white", showlegend=False,
              font=dict(family=FONT, size=7, color="black"))
annotations = []

for i, (name, blk, r, c, xs, bx, by, gx, gy, dense) in enumerate(PANELS):
    n = i + 1
    sfx = "" if n == 1 else str(n)
    b = BLOCK[blk]
    top, bot = b["rows"][r]
    left = b["x0"] + c * b["pw"]
    right = left + b["pw"]
    xr, xt, xminor = XSTYLE[xs]

    fig.add_trace(go.Scatter(x=gx, y=gy, mode="markers", xaxis="x" + sfx, yaxis="y" + sfx,
                             marker=dict(color="#9a9a9a", size=3.4 if dense else 2.6, line=dict(width=0)),
                             hoverinfo="skip"))
    fig.add_trace(go.Scatter(x=bx, y=by, mode="markers", xaxis="x" + sfx, yaxis="y" + sfx,
                             marker=dict(color="black", size=3.0, line=dict(width=0)),
                             hoverinfo="skip"))

    common = dict(showline=True, linecolor="black", linewidth=0.8, mirror="allticks",
                  ticks="inside", ticklen=2.5, tickwidth=0.6, tickcolor="black",
                  showgrid=False, zeroline=False,
                  tickfont=dict(family=FONT, size=6, color="black"),
                  fixedrange=True)
    layout["xaxis" + sfx] = dict(common, domain=[left / W, right / W], anchor="y" + sfx,
                                 range=xr, tickmode="array", tickvals=xt, ticktext=[str(v) for v in xt],
                                 minor=dict(ticks="inside", ticklen=1.3, tickwidth=0.5,
                                            tickcolor="black", dtick=xminor, showgrid=False),
                                 ticklabelstandoff=0)
    layout["yaxis" + sfx] = dict(common, domain=[1 - bot / H, 1 - top / H], anchor="x" + sfx,
                                 range=[18.9, 6.8], tickmode="array", tickvals=KS_TICKS,
                                 showticklabels=(c == 0),
                                 minor=dict(ticks="inside", ticklen=1.3, tickwidth=0.5,
                                            tickcolor="black", dtick=0.5, showgrid=False),
                                 ticklabelstandoff=1)
    annotations.append(dict(text=name, x=(left + right) / 2 / W, y=1 - (top - 4) / H,
                            xref="paper", yref="paper", xanchor="center", yanchor="middle",
                            showarrow=False, borderpad=0,
                            font=dict(family=FONT, size=7, color="black")))
    if c == 0:
        annotations.append(dict(text="K<sub>s</sub>", x=b["ks_x"] / W, y=1 - (top + 15) / H,
                                xref="paper", yref="paper", xanchor="center", yanchor="middle",
                                textangle=-90, showarrow=False, borderpad=0,
                                font=dict(family=FONT, size=7, color="black")))

for blk, b in BLOCK.items():
    for r, (top, bot) in enumerate(b["rows"]):
        annotations.append(dict(text="(J\u2212K<sub>s</sub>)", x=b["xlab"][r] / W, y=1 - (bot + 11) / H,
                                xref="paper", yref="paper", xanchor="center", yanchor="middle",
                                showarrow=False, borderpad=0,
                                font=dict(family=FONT, size=6, color="black")))

layout["annotations"] = annotations
fig.update_layout(**layout)
fig.write_html("out.html", config={"displayModeBar": False, "staticPlot": True},
               post_script="document.body.style.margin='0px';document.body.style.overflow='hidden';")
